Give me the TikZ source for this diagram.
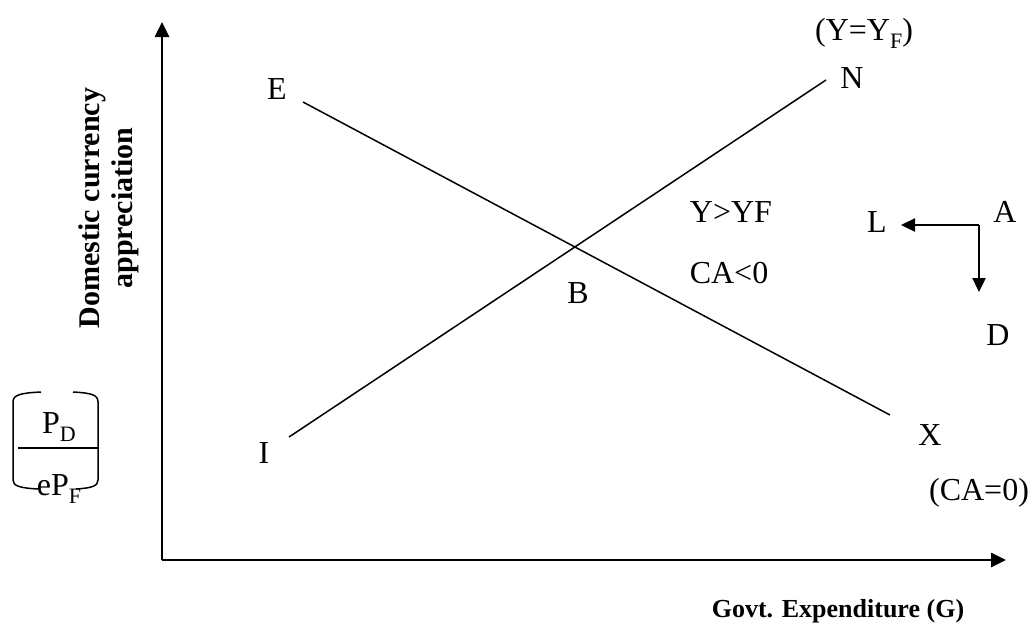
\documentclass[tikz,border=0pt]{standalone}
\usepackage{fontspec}
\setmainfont{Liberation Serif}
\usetikzlibrary{arrows.meta}
\newcommand\lowsub[1]{\raisebox{-8pt}{\fontsize{22}{26}\selectfont #1}}
\begin{document}
\begin{tikzpicture}[x=1pt,y=-1pt,
  lbl/.style={anchor=base,inner sep=0pt,font=\fontsize{32}{38}\selectfont},
  axlbl/.style={anchor=base,inner sep=0pt,font=\fontsize{26}{30}\selectfont\bfseries},
  axisline/.style={line width=2.6pt,-{Triangle[length=15pt,width=14pt]}},
  curve/.style={line width=1.5pt},
  movearrow/.style={line width=2.4pt,-{Triangle[length=14pt,width=13pt]}},
  bracket/.style={line width=1.5pt}]
\useasboundingbox (0,0) rectangle (1034,622);
% axes
\coordinate (O) at (162,560);
\coordinate (ytop) at (162,22);
\coordinate (xend) at (1006,560);
\draw[axisline] (O) -- (ytop);
\draw[axisline] (O) -- (xend);
% curves
\coordinate (e1) at (303,102);
\coordinate (x1) at (890,415);
\coordinate (i1) at (289,437);
\coordinate (n1) at (826,80);
\draw[curve] (e1) -- (x1);
\draw[curve] (i1) -- (n1);
% labels
\node[lbl] (E) at (277,99) {E};
\node[lbl] (N) at (852,88) {N};
\node[lbl] (I) at (264,463) {I};
\node[lbl] (B) at (578,303) {B};
\node[lbl] (X) at (930,445) {X};
\node[lbl] (YYF) at (864,40) {(Y=Y\lowsub{F})};
\node[lbl] (CA0) at (979,500) {(CA=0)};
\node[lbl] (YgYF) at (731,222) {Y>YF};
\node[lbl] (CAl0) at (729,283) {CA<0};
\node[lbl] (L) at (877,232) {L};
\node[lbl] (A) at (1005,222) {A};
\node[lbl] (D) at (998,345) {D};
% movement arrows
\coordinate (corner) at (979,225);
\coordinate (ltip) at (901,225);
\coordinate (dtip) at (979,292);
\draw[movearrow] (corner) -- (ltip);
\draw[movearrow] (corner) -- (dtip);
% axis labels
\node[axlbl] (xlab) at (838,617) {Govt. Expenditure (G)};
\node[axlbl,rotate=90,font=\fontsize{30}{34}\selectfont\bfseries,anchor=center] (ylab1) at (92,208) {Domestic currency};
\node[axlbl,rotate=90,font=\fontsize{30}{34}\selectfont\bfseries,anchor=center] (ylab2) at (125,208) {appreciation};
% fraction with bracket
\node[lbl] (PD) at (59,433) {P\lowsub{D}};
\node[lbl] (ePF) at (59,495) {eP\lowsub{F}};
\coordinate (fl) at (18,448);
\coordinate (fr) at (98,448);
\draw[bracket] (fl) -- (fr);
\draw[bracket] (41,392) .. controls (20,393) and (13,395) .. (13,402) -- (13,480) .. controls (13,486) and (20,488) .. (38,489);
\draw[bracket] (73,392) .. controls (92,393) and (98,395) .. (98,402) -- (98,480) .. controls (98,486) and (92,488) .. (76,489);
\end{tikzpicture}
\end{document}
